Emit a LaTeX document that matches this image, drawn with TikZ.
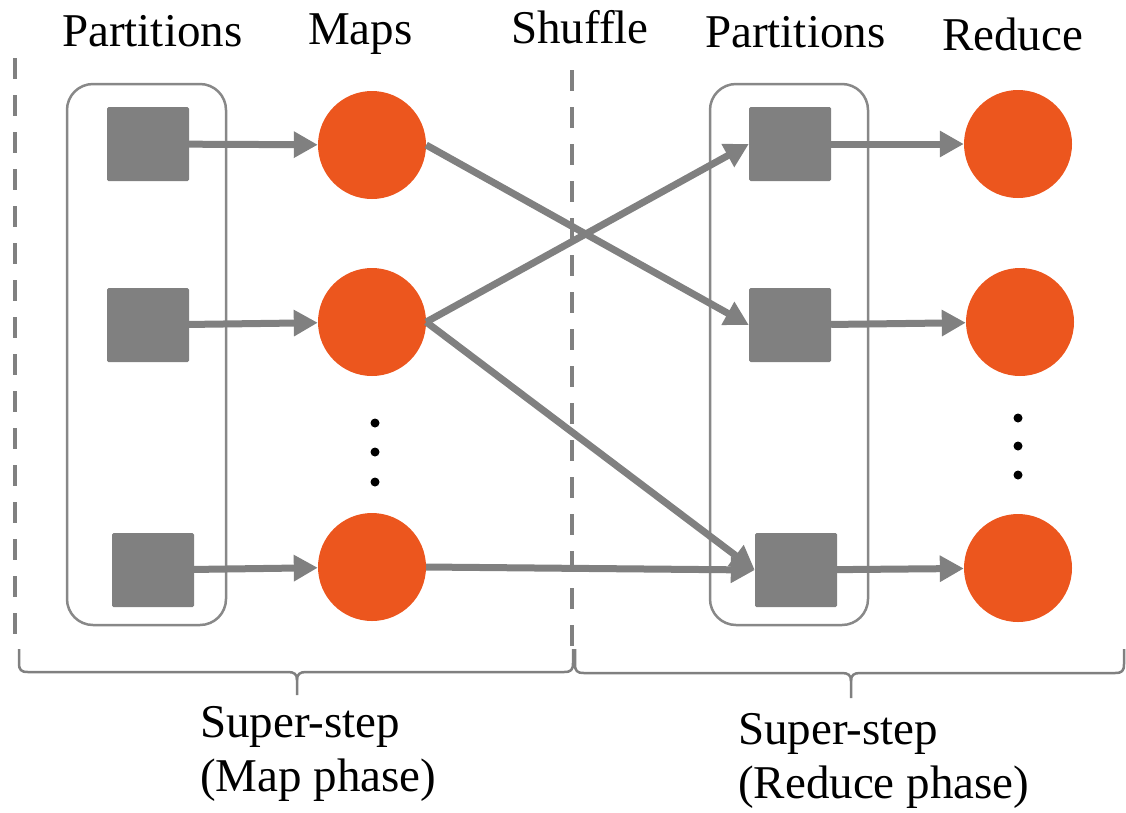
\documentclass[tikz,border=0pt]{standalone}
\usepackage{fontspec}
\setmainfont{Liberation Serif}
\usetikzlibrary{arrows.meta}
\definecolor{boxgray}{RGB}{128,128,128}
\definecolor{framegray}{RGB}{136,136,136}
\definecolor{taskred}{RGB}{236,86,30}
\begin{document}
\begin{tikzpicture}[x=1pt,y=-1pt,
  lbl/.style={font=\fontsize{47}{54}\selectfont, inner sep=0pt, anchor=base west},
  part/.style={fill=boxgray, minimum width=82pt, minimum height=74pt, rounded corners=1.5pt, inner sep=0pt},
  task/.style={circle, fill=taskred, minimum size=108pt, inner sep=0pt},
  flow/.style={draw=boxgray, line width=7pt, -{Triangle[length=24pt,width=25pt]}},
  group/.style={draw=framegray, line width=2.5pt, rounded corners=26pt},
  divider/.style={draw=boxgray, line width=4pt, dash pattern=on 21pt off 16pt},
  brace/.style={draw=boxgray, line width=2.5pt},
  vdot/.style={circle, fill=black, minimum size=9pt, inner sep=0pt}]
\useasboundingbox (0,0) rectangle (1126,812);

% column headings
\node[lbl] (hpart1) at (62,46) {Partitions};
\node[lbl] (hmaps)  at (308,44) {Maps};
\node[lbl] (hshuf)  at (511,43) {Shuffle};
\node[lbl] (hpart2) at (705,47) {Partitions};
\node[lbl] (hred)   at (942,50) {Reduce};

% phase dividers
\draw[divider] (15,58) -- (15,634);
\draw[divider] (572,70) -- (572,651);

% partition groups
\draw[group] (67,84) rectangle (226,625);
\draw[group] (710,84) rectangle (868,625);

% input partitions
\node[part] (s1) at (148,144) {};
\node[part] (s2) at (148,325) {};
\node[part] (s3) at (153,570) {};

% map tasks
\node[task] (m1) at (372,145) {};
\node[task] (m2) at (372,322) {};
\node[task] (m3) at (372,567) {};

% shuffled partitions
\node[part] (r1) at (790,144) {};
\node[part] (r2) at (790,325) {};
\node[part] (r3) at (796,570) {};

% reduce tasks
\node[task] (d1) at (1018,144) {};
\node[task] (d2) at (1020,322) {};
\node[task] (d3) at (1018,568) {};

% ellipses
\node[vdot] (md1) at (375,423) {};
\node[vdot] (md2) at (375,452) {};
\node[vdot] (md3) at (375,482) {};
\node[vdot] (rd1) at (1018,418) {};
\node[vdot] (rd2) at (1018,446) {};
\node[vdot] (rd3) at (1018,475) {};

% data flow
\draw[flow] (s1) -- (m1);
\draw[flow] (s2) -- (m2);
\draw[flow] (s3) -- (m3);
\draw[flow] (m1.east) -- (r2.west);
\draw[flow] (m2.east) -- (r1.west);
\draw[flow] (m2.east) -- (r3.west);
\draw[flow] (m3.east) -- (r3.west);
\draw[flow] (r1) -- (d1);
\draw[flow] (r2) -- (d2);
\draw[flow] (r3) -- (d3);

% super-step braces
\draw[brace] (19,649) -- (19,663) .. controls (19,670) and (21,672) .. (28,672) -- (288,672)
  .. controls (294,672) and (297,674) .. (297,680) -- (297,695);
\draw[brace] (297,680) .. controls (297,674) and (300,672) .. (306,672) -- (564,672)
  .. controls (571,672) and (573,670) .. (573,663) -- (573,649);
\draw[brace] (575,649) -- (575,664) .. controls (575,671) and (577,673) .. (584,673) -- (842,673)
  .. controls (848,673) and (851,675) .. (851,681) -- (851,698);
\draw[brace] (851,681) .. controls (851,675) and (854,673) .. (860,673) -- (1115,673)
  .. controls (1122,673) and (1124,671) .. (1124,664) -- (1124,649);

% phase labels (base anchor sits on the last line)
\node[lbl, align=left] (lmap) at (200,791) {Super-step\\(Map phase)};
\node[lbl, align=left] (lred) at (738,798) {Super-step\\(Reduce phase)};
\end{tikzpicture}
\end{document}
